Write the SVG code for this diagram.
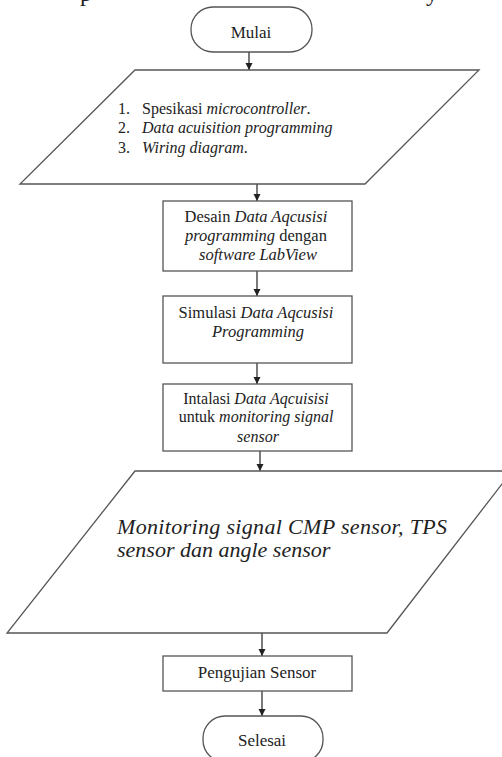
<svg xmlns="http://www.w3.org/2000/svg" width="502" height="757" viewBox="0 0 502 757">
<style>
.shape{fill:#fff;stroke:#555;stroke-width:1.3}
.t{font-family:"Liberation Serif","Times New Roman",serif;fill:#222}
.i{font-style:italic}
.conn line{stroke:#333;stroke-width:1.3}
</style>
<defs>
<marker id="ah" markerUnits="userSpaceOnUse" markerWidth="8" markerHeight="8" refX="7" refY="3.5" orient="auto">
<path d="M0,0 L7,3.5 L0,7 z" fill="#222"/>
</marker>
</defs>
<rect width="502" height="757" fill="#fff"/>
<g id="cut-text">
<text class="t" x="80" y="1" font-size="24">p</text>
<text class="t" x="426" y="1" font-size="24">y</text>
</g>
<g class="conn" id="connectors">
<line x1="249" y1="52" x2="249" y2="70" marker-end="url(#ah)"/>
<line x1="257" y1="184" x2="257" y2="201" marker-end="url(#ah)"/>
<line x1="257" y1="271" x2="257" y2="296" marker-end="url(#ah)"/>
<line x1="257" y1="363" x2="257" y2="384" marker-end="url(#ah)"/>
<line x1="260" y1="451" x2="260" y2="471" marker-end="url(#ah)"/>
<line x1="262" y1="633" x2="262" y2="656" marker-end="url(#ah)"/>
<line x1="262" y1="691" x2="262" y2="716" marker-end="url(#ah)"/>
</g>
<g id="mulai">
<rect class="shape" x="191" y="7" width="121" height="45" rx="22" ry="22"/>
<text class="t" x="251" y="38" font-size="17" text-anchor="middle">Mulai</text>
</g>
<g id="input1">
<polygon class="shape" points="135,70 479,70 365,184 20,184"/>
<text class="t" font-size="16"><tspan x="118" y="114">1.</tspan><tspan x="142" y="114">Spesikasi <tspan class="i">microcontroller</tspan>.</tspan></text>
<text class="t i" font-size="16"><tspan class="t" font-style="normal" x="118" y="133">2.</tspan><tspan x="142" y="133">Data acuisition programming</tspan></text>
<text class="t i" font-size="16"><tspan font-style="normal" x="118" y="153">3.</tspan><tspan x="142" y="153">Wiring diagram</tspan><tspan font-style="normal">.</tspan></text>
</g>
<g id="desain">
<rect class="shape" x="163" y="201" width="189" height="70"/>
<text class="t" font-size="16.5" text-anchor="middle">
<tspan x="258" y="222">Desain <tspan class="i">Data Aqcusisi</tspan></tspan>
<tspan x="258" y="241"><tspan class="i">programming</tspan> dengan</tspan>
<tspan x="258" y="260" class="i">software LabView</tspan>
</text>
</g>
<g id="simulasi">
<rect class="shape" x="163" y="296" width="189" height="67"/>
<text class="t" font-size="16.5" text-anchor="middle">
<tspan x="258" y="318">Simulasi <tspan class="i">Data Aqcusisi</tspan></tspan>
<tspan x="258" y="337" class="i">Programming</tspan>
</text>
</g>
<g id="instalasi">
<rect class="shape" x="163" y="384" width="189" height="67"/>
<text class="t" font-size="16" text-anchor="middle">
<tspan x="258" y="404">Intalasi <tspan class="i">Data Aqcuisisi</tspan></tspan>
<tspan x="258" y="422">untuk <tspan class="i">monitoring signal</tspan></tspan>
<tspan x="258" y="442" class="i">sensor</tspan>
</text>
</g>
<g id="input2">
<polygon class="shape" points="135,471 512,471 387,633 7,633"/>
<text class="t i" font-size="22">
<tspan x="117" y="534" textLength="330" lengthAdjust="spacing">Monitoring signal CMP sensor, TPS</tspan>
<tspan x="117" y="557">sensor dan angle sensor</tspan>
</text>
</g>
<g id="pengujian">
<rect class="shape" x="163" y="656" width="189" height="35"/>
<text class="t" x="257" y="678" font-size="17" text-anchor="middle">Pengujian Sensor</text>
</g>
<g id="selesai">
<rect class="shape" x="203" y="716" width="120" height="46" rx="22" ry="22"/>
<text class="t" x="262" y="746" font-size="17" text-anchor="middle">Selesai</text>
</g>
</svg>
